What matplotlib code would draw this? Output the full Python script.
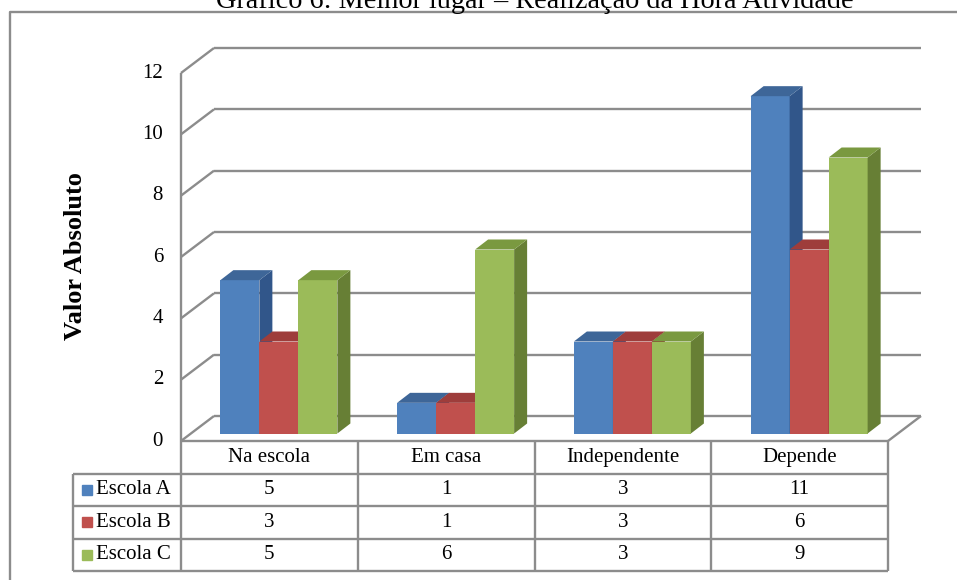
import matplotlib
matplotlib.use("Agg")
import matplotlib.pyplot as plt
from matplotlib.patches import Rectangle, Polygon
from matplotlib.lines import Line2D

plt.rcParams['font.family'] = ['Liberation Serif', 'DejaVu Serif']

# dados
categorias = ['Na escola', 'Em casa', 'Independente', 'Depende']
series = ['Escola A', 'Escola B', 'Escola C']
escola_a = [5, 1, 3, 11]
escola_b = [3, 1, 3, 6]
escola_c = [5, 6, 3, 9]
yticks = [0, 2, 4, 6, 8, 10, 12]

valores = [escola_a, escola_b, escola_c]
cor_frente = ['#4F81BD', '#C0504D', '#9BBB59']
cor_lado = ['#31568A', '#8E3432', '#677F35']
cor_topo = ['#3E6698', '#9E3D3B', '#7A9940']
cinza = '#8C8C8C'

W, H = 957, 580
fig = plt.figure(figsize=(W / 100, H / 100), dpi=100)

# eixo principal (plano frontal)
ax = fig.add_axes([181 / W, (H - 441) / H, (888 - 181) / W, (441 - 73) / H])
ax.set_xlim(0, 4)
ax.set_ylim(0, 12)
ax.axis('off')

ux = ax.bbox.width / 4     # px por unidade em x
uy = ax.bbox.height / 12   # px por unidade em y

# deslocamentos do efeito 3D (em px -> unidades)
WX, WY = 33 / ux, 25 / uy      # parede do fundo
PX, PY = 9.5 / ux, 7.5 / uy    # plano das barras
DX, DY = 13 / ux, 10 / uy      # profundidade das barras
bw = 39 / ux                   # largura da barra

kw = dict(color=cinza, lw=1.7, clip_on=False, solid_capstyle='butt')
for v in yticks:
    ax.plot([WX, 4 + WX], [v + WY, v + WY], zorder=1, **kw)
    ax.plot([0, WX], [v, v + WY], zorder=1, **kw)
    ax.text(-18 / ux, v, str(v), ha='right', va='center', fontsize=15)
ax.plot([0, 0], [0, 12], zorder=1, **kw)
ax.plot([0, 4], [0, 0], zorder=1, **kw)
ax.plot([4, 4 + WX], [0, WY], zorder=1, **kw)

# barras 3D
z = 2
for i in range(len(categorias)):
    for j in range(len(series)):
        h = valores[j][i]
        x0 = i + 0.5 + (j - 1.5) * bw + PX
        y0 = PY
        ax.add_patch(Rectangle((x0, y0), bw, h, facecolor=cor_frente[j],
                               edgecolor='none', zorder=z, clip_on=False))
        ax.add_patch(Polygon([(x0 + bw, y0), (x0 + bw + DX, y0 + DY),
                              (x0 + bw + DX, y0 + h + DY), (x0 + bw, y0 + h)],
                             facecolor=cor_lado[j], edgecolor='none', zorder=z, clip_on=False))
        ax.add_patch(Polygon([(x0, y0 + h), (x0 + DX, y0 + h + DY),
                              (x0 + bw + DX, y0 + h + DY), (x0 + bw, y0 + h)],
                             facecolor=cor_topo[j], edgecolor='none', zorder=z, clip_on=False))
        z += 1

fig.text(75 / W, 1 - 256 / H, 'Valor Absoluto', rotation=90, ha='center', va='center',
         fontsize=19, fontweight='bold')

# tabela de dados
esq = -(181 - 73) / ux
tx = fig.add_axes([73 / W, (H - 571) / H, (888 - 73) / W, (571 - 441) / H])
tx.set_xlim(esq, 4)
tx.set_ylim(4, 0)
tx.axis('off')
for r in range(1, 5):
    tx.plot([esq, 4], [r, r], **kw)
for c in range(5):
    tx.plot([c, c], [0, 4], **kw)
tx.plot([esq, esq], [1, 4], **kw)

for i, cat in enumerate(categorias):
    tx.text(i + 0.5, 0.5, cat, ha='center', va='center', fontsize=15)
    for j in range(len(series)):
        tx.text(i + 0.5, j + 1.5, str(valores[j][i]), ha='center', va='center', fontsize=15)
for j, s in enumerate(series):
    tx.plot([esq + 13.5 / ux], [j + 1.5], marker='s', markersize=7.5, color=cor_frente[j],
            clip_on=False)
    tx.text(esq + 23 / ux, j + 1.5, s, ha='left', va='center', fontsize=15)

# moldura e título
fig.add_artist(Line2D([10 / W, 10 / W, 1], [0, 1 - 12 / H, 1 - 12 / H],
                      transform=fig.transFigure, color=cinza, lw=1.7))
fig.text(535 / W, 1 - 8 / H, 'Gráfico 6: Melhor lugar – Realização da Hora Atividade',
         ha='center', va='baseline', fontsize=20.3)

fig.savefig('out.png', dpi=100)
